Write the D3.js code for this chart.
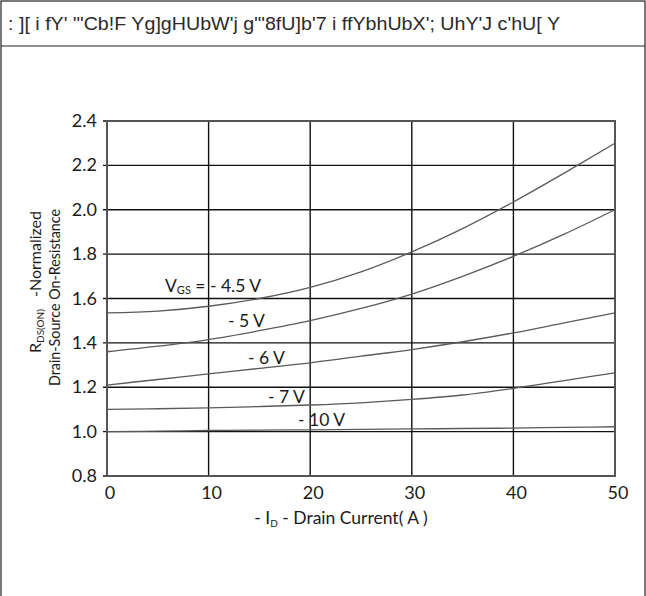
<!DOCTYPE html>
<html>
<head>
<meta charset="utf-8">
<script src="https://cdn.jsdelivr.net/npm/d3@7/dist/d3.min.js"></script>
<style>
  html, body { margin: 0; padding: 0; background: #fff; }
  svg { display: block; }
  text { font-family: Lato, "Open Sans", sans-serif; fill: #1b1b1b; }
</style>
</head>
<body>
<svg id="chart" width="646" height="596"></svg>
<script>
// Drain current (A) sample points shared by every curve
const current = [0, 5, 10, 15, 20, 25, 30, 35, 40, 45, 50];

// Normalized on-resistance for each gate voltage
const vgs45 = [1.535, 1.543, 1.565, 1.600, 1.650, 1.720, 1.810, 1.915, 2.035, 2.165, 2.300];
const vgs5  = [1.360, 1.385, 1.415, 1.455, 1.500, 1.555, 1.620, 1.700, 1.790, 1.890, 2.000];
const vgs6  = [1.210, 1.235, 1.260, 1.285, 1.310, 1.340, 1.370, 1.405, 1.445, 1.490, 1.535];
const vgs7  = [1.100, 1.103, 1.107, 1.113, 1.120, 1.130, 1.145, 1.165, 1.195, 1.230, 1.265];
const vgs10 = [1.000, 1.002, 1.005, 1.007, 1.008, 1.010, 1.012, 1.014, 1.016, 1.019, 1.022];

const xTicks = [0, 10, 20, 30, 40, 50];
const yTicks = [0.8, 1.0, 1.2, 1.4, 1.6, 1.8, 2.0, 2.2, 2.4];

const titleText = ": ][ i fY' \"'Cb!F Yg]gHUbW'j g\"'8fU]b'7 i ffYbhUbX'; UhY'J c'hU[ Y";

const svg = d3.select("#chart");

// Page frame and title row
svg.append("rect").attr("x", 1).attr("y", 1).attr("width", 644).attr("height", 620)
  .attr("fill", "none").attr("stroke", "#222").attr("stroke-width", 1.2);
svg.append("line").attr("x1", 1).attr("x2", 645).attr("y1", 46).attr("y2", 46)
  .attr("stroke", "#222").attr("stroke-width", 1.2);
svg.append("text").attr("x", 8).attr("y", 30)
  .style("font-family", "'Liberation Sans', Arial, sans-serif")
  .style("font-size", "18px").style("fill", "#2a2a2a")
  .attr("textLength", 552).attr("lengthAdjust", "spacingAndGlyphs")
  .text(titleText);

const plotL = 107, plotR = 615, plotT = 121, plotB = 476;
const x = d3.scaleLinear().domain([0, 50]).range([plotL, plotR]);
const y = d3.scaleLinear().domain([0.8, 2.4]).range([plotB, plotT]);

// Grid lines
const grid = svg.append("g");
grid.selectAll("line.h").data(yTicks).join("line")
  .attr("x1", plotL - 4).attr("x2", plotR)
  .attr("y1", d => y(d)).attr("y2", d => y(d))
  .attr("stroke", "#111").attr("stroke-width", 1.4);
grid.selectAll("line.v").data(xTicks).join("line")
  .attr("y1", plotT).attr("y2", plotB)
  .attr("x1", d => x(d)).attr("x2", d => x(d))
  .attr("stroke", "#111").attr("stroke-width", 1.4);

// Plot border
svg.append("rect").attr("x", plotL).attr("y", plotT)
  .attr("width", plotR - plotL).attr("height", plotB - plotT)
  .attr("fill", "none").attr("stroke", "#555").attr("stroke-width", 2);

// Tick labels
svg.append("g").selectAll("text").data(yTicks).join("text")
  .attr("x", 97).attr("y", d => y(d) + 6)
  .attr("text-anchor", "end").style("font-size", "18px")
  .text(d => d.toFixed(1));
svg.append("g").selectAll("text").data(xTicks).join("text")
  .attr("x", d => x(d) + 3).attr("y", 499)
  .attr("text-anchor", "middle").style("font-size", "18px")
  .text(d => d);

// Curves
const series = [vgs45, vgs5, vgs6, vgs7, vgs10];
const line = d3.line()
  .x((d, i) => x(current[i]))
  .y(d => y(d))
  .curve(d3.curveMonotoneX);
svg.append("g").selectAll("path").data(series).join("path")
  .attr("d", line)
  .attr("fill", "none").attr("stroke", "#5a5a5a").attr("stroke-width", 1.3);

// Curve labels
const lab = svg.append("g").style("font-size", "17.5px");
const t45 = lab.append("text").attr("x", 165).attr("y", 292);
t45.append("tspan").text("V");
t45.append("tspan").attr("dy", 2).style("font-size", "11px").text("GS");
t45.append("tspan").attr("dy", -2).text(" = - 4.5 V");
lab.append("text").attr("x", 228).attr("y", 327).text("- 5 V");
lab.append("text").attr("x", 248).attr("y", 364).text("- 6 V");
lab.append("text").attr("x", 268).attr("y", 403).text("- 7 V");
lab.append("text").attr("x", 298).attr("y", 426).text("- 10 V");

// Axis titles
const xt = svg.append("text").attr("x", 341).attr("y", 524)
  .attr("text-anchor", "middle").style("font-size", "17.5px");
xt.append("tspan").text("- I");
xt.append("tspan").attr("dy", 3).style("font-size", "10px").text("D");
xt.append("tspan").attr("dy", -3).text(" - Drain Current( A )");

// Vertical title: two rotated lines
const yt = svg.append("g").attr("transform", "translate(0,297.5) rotate(-90)")
  .style("font-size", "16px");
const y1 = yt.append("text").attr("x", -55.5).attr("y", 41).attr("text-anchor", "start");
y1.append("tspan").text("R");
y1.append("tspan").attr("dy", 3).style("font-size", "10px").text("DS(ON)");
yt.append("text").attr("x", 86.5).attr("y", 41).attr("text-anchor", "end")
  .text("-Normalized");
yt.append("text").attr("x", 0).attr("y", 60).attr("text-anchor", "middle")
  .attr("textLength", 177).attr("lengthAdjust", "spacingAndGlyphs")
  .text("Drain-Source On-Resistance");
</script>
</body>
</html>
